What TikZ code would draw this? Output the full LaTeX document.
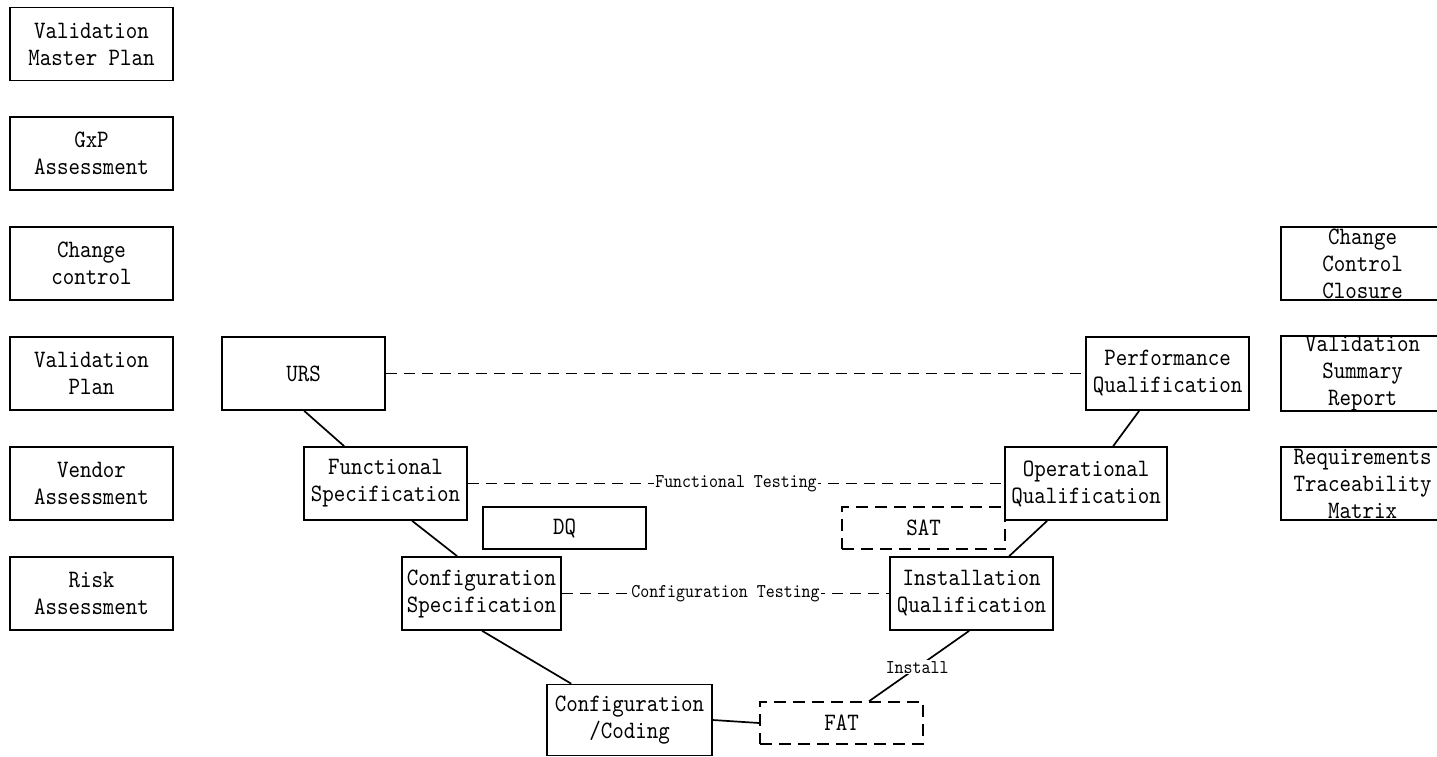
\documentclass[tikz,border=0pt]{standalone}
\usepackage{fontspec}
\newfontfamily\boxfont{lmmono10-regular}[Extension=.otf, FakeStretch=0.876]
\tikzset{
 box/.style={draw, line width=1.7pt, minimum width=163pt, minimum height=73pt, inner sep=0pt, align=center, font=\boxfont\fontsize{25}{27}\selectfont},
 sbox/.style={box, minimum height=42pt},
 dbox/.style={sbox, dash pattern=on 12pt off 7pt},
 link/.style={line width=1.7pt},
 dlink/.style={line width=1.7pt, dash pattern=on 11pt off 7pt},
 lab/.style={fill=white, inner sep=1pt, font=\boxfont\fontsize{19.5}{22}\selectfont}
}
\begin{document}
\begin{tikzpicture}[x=1pt,y=-1pt]
\useasboundingbox (0,0) rectangle (1437,756);
\fill[white] (0,0) rectangle (1437,756);
% left column
\node[box] (vmp) at (91.5,44) {Validation\\Master Plan};
\node[box] (gxp) at (91.5,153.5) {GxP\\Assessment};
\node[box] (cc) at (91.5,263.5) {Change\\control};
\node[box] (vp) at (91.5,373.5) {Validation\\Plan};
\node[box] (va) at (91.5,483.5) {Vendor\\Assessment};
\node[box] (ra) at (91.5,593.5) {Risk\\Assessment};
% right column
\node[box] (ccc) at (1362.5,263.5) {Change\\Control\\Closure};
\node[box] (vsr) at (1362.5,373.5) {Validation\\Summary\\Report};
\node[box] (rtm) at (1362.5,483.5) {Requirements\\Traceability\\Matrix};
% V model
\node[box] (urs) at (303.5,373.5) {URS};
\node[box] (fs) at (385.5,483.5) {Functional\\Specification};
\node[sbox] (dq) at (564.5,528) {DQ};
\node[box, minimum width=159pt] (cs) at (481.5,593.5) {Configuration\\Specification};
\node[box, minimum width=165pt, minimum height=71pt] (code) at (629.5,720) {Configuration\\/Coding};
\node[dbox] (fat) at (841.5,723) {FAT};
\node[box] (iq) at (971.5,593.5) {Installation\\Qualification};
\node[dbox] (sat) at (923.5,528) {SAT};
\node[box, minimum width=162pt] (oq) at (1086,483.5) {Operational\\Qualification};
\node[box] (pq) at (1167.5,373.5) {Performance\\Qualification};
% links
\draw[link] ([xshift=83pt]urs.south west) -- ([xshift=41pt]fs.north west);
\draw[link] ([xshift=109pt]fs.south west) -- ([xshift=56pt]cs.north west);
\draw[link] ([xshift=81pt]cs.south west) -- ([xshift=25pt]code.north west);
\draw[link] (code.east) -- (fat.west);
\draw[link] ([xshift=110pt]fat.north west) -- node[lab, pos=0.48] (inst) {Install} ([xshift=80pt]iq.south west);
\draw[link] ([xshift=120pt]iq.north west) -- ([xshift=43pt]oq.south west);
\draw[link] ([xshift=109pt]oq.north west) -- ([xshift=54pt]pq.south west);
% dashed links
\draw[dlink] (urs.east) -- (pq.west);
\draw[dlink] (fs.east) -- node[lab] (ft) {Functional Testing} (oq.west);
\draw[dlink] (cs.east) -- node[lab] (ct) {Configuration Testing} (iq.west);
\end{tikzpicture}
\end{document}
